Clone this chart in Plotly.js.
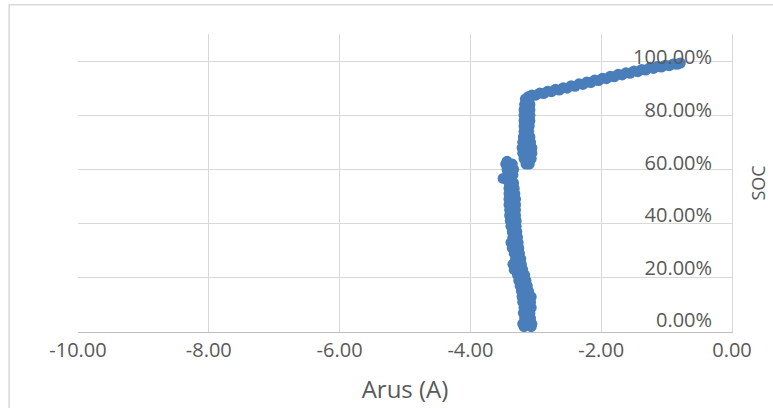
<!DOCTYPE html>
<html>
<head>
<meta charset="utf-8">
<script src="https://cdn.plot.ly/plotly-3.0.1.min.js"></script>
<style>html,body{margin:0;padding:0;background:#fff;}#chart{width:773px;height:408px;}</style>
</head>
<body>
<div id="chart"></div>
<script>
// Lower column (SOC 0 - 63 %)
const lowerSoc = [0.02,0.02,0.03,0.03,0.05,0.05,0.07,0.07,0.09,0.09,0.11,0.11,0.13,0.13,0.15,0.15,0.17,0.17,0.19,0.19,0.21,0.21,0.23,0.23,0.25,0.25,0.27,0.27,0.29,0.29,0.31,0.31,0.33,0.33,0.35,0.35,0.37,0.37,0.39,0.39,0.41,0.41,0.43,0.43,0.45,0.45,0.47,0.47,0.49,0.49,0.51,0.51,0.53,0.53,0.55,0.55,0.567,0.58,0.58,0.60,0.60,0.62,0.62,0.63];
const lowerArus = [-3.18,-3.07,-3.20,-3.06,-3.17,-3.08,-3.19,-3.09,-3.18,-3.07,-3.20,-3.08,-3.21,-3.07,-3.22,-3.11,-3.24,-3.13,-3.26,-3.15,-3.28,-3.17,-3.33,-3.20,-3.35,-3.22,-3.31,-3.23,-3.33,-3.25,-3.36,-3.26,-3.38,-3.27,-3.35,-3.28,-3.36,-3.29,-3.38,-3.30,-3.39,-3.30,-3.40,-3.31,-3.40,-3.31,-3.41,-3.31,-3.41,-3.31,-3.41,-3.32,-3.41,-3.33,-3.41,-3.34,-3.50,-3.43,-3.35,-3.44,-3.34,-3.46,-3.36,-3.44];
// Upper column (SOC 62 - 86 %)
const upperSoc = [0.62,0.62,0.64,0.64,0.66,0.66,0.68,0.68,0.70,0.70,0.72,0.72,0.74,0.74,0.76,0.76,0.78,0.78,0.80,0.80,0.82,0.82,0.84,0.84,0.86,0.86];
const upperArus = [-3.15,-3.10,-3.18,-3.07,-3.20,-3.06,-3.21,-3.06,-3.20,-3.08,-3.19,-3.09,-3.18,-3.11,-3.18,-3.10,-3.18,-3.09,-3.18,-3.09,-3.18,-3.09,-3.17,-3.09,-3.16,-3.10];
// Charging tail (SOC 86 - 100 %)
const tailSoc = [0.868,0.875,0.874,0.882,0.880,0.889,0.887,0.896,0.893,0.902,0.900,0.909,0.907,0.916,0.914,0.923,0.921,0.930,0.928,0.937,0.935,0.944,0.942,0.951,0.949,0.957,0.955,0.963,0.961,0.969,0.967,0.975,0.973,0.980,0.978,0.985,0.983,0.989,0.988,0.993];
const tailArus = [-3.12,-3.06,-3.00,-2.94,-2.88,-2.82,-2.76,-2.70,-2.64,-2.58,-2.52,-2.46,-2.40,-2.34,-2.28,-2.22,-2.16,-2.10,-2.04,-1.98,-1.92,-1.86,-1.80,-1.74,-1.68,-1.62,-1.56,-1.50,-1.44,-1.38,-1.32,-1.26,-1.20,-1.14,-1.08,-1.02,-0.96,-0.90,-0.84,-0.79];

const xTickVals = [-10,-8,-6,-4,-2,0];
const xTickText = ['-10.00','-8.00','-6.00','-4.00','-2.00','0.00'];
const yTickVals = [0,0.2,0.4,0.6,0.8,1.0];
const yTickText = ['0.00%','20.00%','40.00%','60.00%','80.00%','100.00%'];

const FONT = 'Open Sans, Noto Sans, sans-serif';
const TXT = '#595959';

const data = [
  {
    type: 'scatter', mode: 'markers',
    x: lowerArus.concat(upperArus, tailArus),
    y: lowerSoc.concat(upperSoc, tailSoc),
    marker: {color: '#4A7EBB', size: 11, line: {width: 0}},
    showlegend: false, hoverinfo: 'x+y'
  },
  {
    type: 'scatter', mode: 'markers', x: [null], y: [null], yaxis: 'y2',
    showlegend: false, hoverinfo: 'skip'
  }
];

const layout = {
  width: 773, height: 408,
  margin: {l: 78, r: 41, t: 34, b: 76},
  paper_bgcolor: '#ffffff', plot_bgcolor: '#ffffff',
  showlegend: false,
  font: {family: FONT, color: TXT},
  xaxis: {
    range: [-10, 0], tickvals: xTickVals, ticktext: xTickText,
    showgrid: true, gridcolor: '#d9d9d9', gridwidth: 1,
    zeroline: false, showline: true, linecolor: '#bfbfbf', linewidth: 1,
    ticks: '', tickfont: {family: FONT, size: 20, color: TXT},
    title: {text: 'Arus (A)', font: {family: FONT, size: 24, color: TXT}, standoff: 19}
  },
  yaxis: {
    range: [0, 1.1], tickvals: yTickVals, showticklabels: false,
    showgrid: true, gridcolor: '#d9d9d9', gridwidth: 1,
    zeroline: false, showline: true, linecolor: '#d9d9d9', side: 'right', ticks: '',
    title: {text: 'SOC', font: {family: FONT, size: 18, color: TXT}, standoff: 20}
  },
  yaxis2: {
    overlaying: 'y', side: 'left', anchor: 'free', position: 0.9695,
    range: [-0.0457, 1.0895], tickvals: yTickVals, ticktext: yTickText,
    ticks: '', showgrid: false, zeroline: false, showline: false,
    tickfont: {family: FONT, size: 20, color: TXT}
  },
  shapes: [
    {type: 'rect', xref: 'paper', yref: 'paper', x0: -0.1053, x1: 1.1, y0: -0.5, y1: 1.098,
     line: {color: '#d9d9d9', width: 1.5}, fillcolor: 'rgba(0,0,0,0)'}
  ]
};

Plotly.newPlot('chart', data, layout, {displayModeBar: false, staticPlot: true});
</script>
</body>
</html>
